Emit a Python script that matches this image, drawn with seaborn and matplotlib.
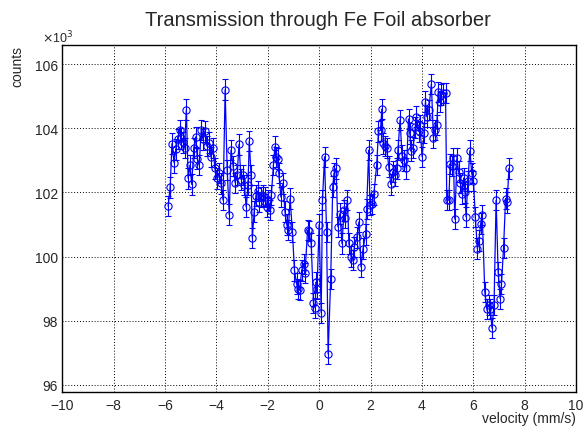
import numpy as np
import pandas as pd
import matplotlib
matplotlib.use("Agg")
import matplotlib.pyplot as plt
from matplotlib.ticker import MultipleLocator
import seaborn as sns

# velocity (mm/s)
velocity = [
    -5.88, -5.80, -5.73, -5.65, -5.58, -5.51, -5.43, -5.36, -5.29, -5.24,
    -5.17, -5.10, -5.03, -4.96, -4.88, -4.81, -4.74, -4.67, -4.59, -4.52,
    -4.44, -4.36, -4.29, -4.21, -4.13, -4.06, -3.98, -3.90, -3.82, -3.74,
    -3.66, -3.58, -3.50, -3.43, -3.35, -3.27, -3.19, -3.12, -3.04, -2.97,
    -2.91, -2.84, -2.77, -2.72, -2.65, -2.60, -2.53, -2.46, -2.39, -2.33,
    -2.26, -2.18, -2.11, -2.04, -1.98, -1.92, -1.86, -1.78, -1.72, -1.67,
    -1.62, -1.57, -1.49, -1.41, -1.33, -1.26, -1.20, -1.13, -1.04, -0.96,
    -0.88, -0.83, -0.76, -0.68, -0.60, -0.55, -0.45, -0.40, -0.31, -0.22,
    -0.15, -0.13, -0.08, 0.00, 0.08, 0.13, 0.21, 0.29, 0.35, 0.45,
    0.53, 0.58, 0.66, 0.73, 0.81, 0.89, 0.97, 1.02, 1.10, 1.16,
    1.24, 1.32, 1.37, 1.47, 1.55, 1.63, 1.71, 1.81, 1.85, 1.93,
    1.98, 2.06, 2.13, 2.24, 2.31, 2.39, 2.44, 2.50, 2.58, 2.63,
    2.71, 2.79, 2.87, 2.94, 3.02, 3.07, 3.15, 3.23, 3.30, 3.40,
    3.48, 3.53, 3.58, 3.66, 3.74, 3.79, 3.87, 3.92, 4.01, 4.09,
    4.14, 4.19, 4.27, 4.37, 4.45, 4.50, 4.58, 4.64, 4.69, 4.76,
    4.84, 4.92, 4.97, 5.05, 5.10, 5.18, 5.23, 5.28, 5.37, 5.43,
    5.50, 5.57, 5.63, 5.68, 5.72, 5.79, 5.87, 5.94, 6.01, 6.08,
    6.16, 6.22, 6.29, 6.35, 6.45, 6.53, 6.60, 6.66, 6.73, 6.81,
    6.89, 6.97, 7.05, 7.10, 7.18, 7.26, 7.32, 7.39,
]

# counts in units of 10^3
counts_k = [
    101.57, 102.16, 103.52, 102.93, 103.34, 103.67, 103.95, 103.69, 103.56, 103.38,
    104.58, 102.44, 102.85, 102.25, 103.38, 103.73, 103.05, 102.85, 103.95, 103.65,
    103.90, 103.45, 103.55, 103.10, 103.38, 102.75, 102.44, 102.60, 102.28, 101.76,
    105.20, 102.70, 101.31, 103.32, 102.83, 102.30, 102.55, 103.50, 102.40, 102.54,
    102.23, 101.55, 102.23, 103.60, 102.54, 100.58, 101.40, 101.90, 102.04, 101.70,
    101.85, 101.90, 101.85, 101.55, 101.75, 101.45, 101.92, 102.85, 103.43, 103.10,
    103.05, 102.60, 101.86, 102.28, 101.40, 101.00, 100.82, 101.81, 100.77, 99.57,
    99.16, 99.00, 98.95, 99.57, 99.78, 99.50, 100.82, 100.80, 100.41, 98.55,
    98.40, 99.20, 99.00, 101.00, 98.25, 101.76, 103.11, 100.77, 96.97, 99.31,
    102.18, 102.60, 102.75, 100.93, 101.34, 100.41, 101.44, 101.20, 101.76, 100.41,
    100.00, 99.90, 100.30, 100.60, 101.08, 99.68, 100.25, 100.69, 101.48, 103.32,
    101.60, 101.64, 101.94, 102.85, 103.90, 103.94, 104.60, 103.53, 103.45, 103.38,
    102.80, 102.25, 102.65, 102.53, 102.75, 103.32, 104.26, 103.15, 103.00, 102.75,
    104.29, 103.84, 103.30, 103.40, 104.03, 104.36, 103.90, 104.10, 103.11, 103.85,
    104.83, 104.36, 104.57, 105.38, 103.71, 103.95, 104.10, 105.13, 104.83, 105.04,
    105.10, 105.10, 101.76, 101.76, 102.88, 102.83, 103.06, 101.17, 103.06, 102.65,
    102.30, 101.96, 102.45, 102.00, 101.24, 102.35, 103.30, 102.60, 102.35, 101.24,
    100.25, 100.50, 101.03, 101.30, 98.90, 98.38, 98.50, 98.38, 97.77, 98.50,
    101.76, 99.52, 98.69, 99.15, 100.27, 101.81, 101.69, 102.75,
]

x_ticks = [-10, -8, -6, -4, -2, 0, 2, 4, 6, 8, 10]
y_ticks = [96, 98, 100, 102, 104, 106]

sns.set_style("white")
plt.rcParams["font.family"] = ["Liberation Sans", "DejaVu Sans"]
plt.rcParams["axes.unicode_minus"] = True

df = pd.DataFrame({"velocity": velocity, "counts": counts_k})
# Poisson uncertainty, in units of 10^3
df["err"] = np.sqrt(df["counts"] * 1000.0) / 1000.0

fig = plt.figure(figsize=(5.86, 4.27), dpi=100)
ax = fig.add_axes([0.1063, 0.0789, 0.8766, 0.8145])

blue = "#0000ff"
ax.errorbar(df["velocity"], df["counts"], yerr=df["err"], fmt="none",
            ecolor=blue, elinewidth=0.8, capsize=2.2, capthick=0.8, zorder=2)
sns.lineplot(data=df, x="velocity", y="counts", ax=ax, sort=False,
             estimator=None, color=blue, linewidth=0.9, marker="o",
             markersize=5.2, markerfacecolor="none", markeredgecolor=blue,
             markeredgewidth=0.8, zorder=3)

ax.set_xlim(-10, 10)
ax.set_ylim(95.77, 106.61)
ax.set_xticks(x_ticks)
ax.set_yticks(y_ticks)
ax.set_xticklabels([str(t).replace("-", "\u2212") for t in x_ticks])
ax.set_yticklabels([str(t) for t in y_ticks])
ax.xaxis.set_minor_locator(MultipleLocator(0.5))
ax.yaxis.set_minor_locator(MultipleLocator(0.5))

ax.tick_params(axis="x", which="major", direction="in", length=7.2, width=0.8,
               labelsize=10, pad=4, top=False)
ax.tick_params(axis="x", which="minor", direction="in", length=3.6, width=0.8, top=False)
ax.tick_params(axis="y", which="major", direction="in", length=10.5, width=0.8,
               labelsize=10, pad=3, right=False)
ax.tick_params(axis="y", which="minor", direction="in", length=5.4, width=0.8, right=False)

ax.grid(True, which="major", color="black", linestyle=(0, (1, 2)), linewidth=0.7)
for s in ax.spines.values():
    s.set_visible(True)
    s.set_color("black")
    s.set_linewidth(1.0)

ax.set_xlabel("")
ax.set_ylabel("")
fig.text(576 / 586, 1 - 419 / 427, "velocity (mm/s)", ha="right", va="center", fontsize=10)
fig.text(17 / 586, 1 - 46 / 427, "counts", ha="center", va="top", rotation=90, fontsize=10)
fig.text(42 / 586, 1 - 38 / 427, r"$\times$10$^{3}$", ha="left", va="center", fontsize=9)
fig.text(317.5 / 586, 1 - 20 / 427, "Transmission through Fe Foil absorber",
         ha="center", va="center", fontsize=14.5)

fig.savefig("out.png", dpi=100)
